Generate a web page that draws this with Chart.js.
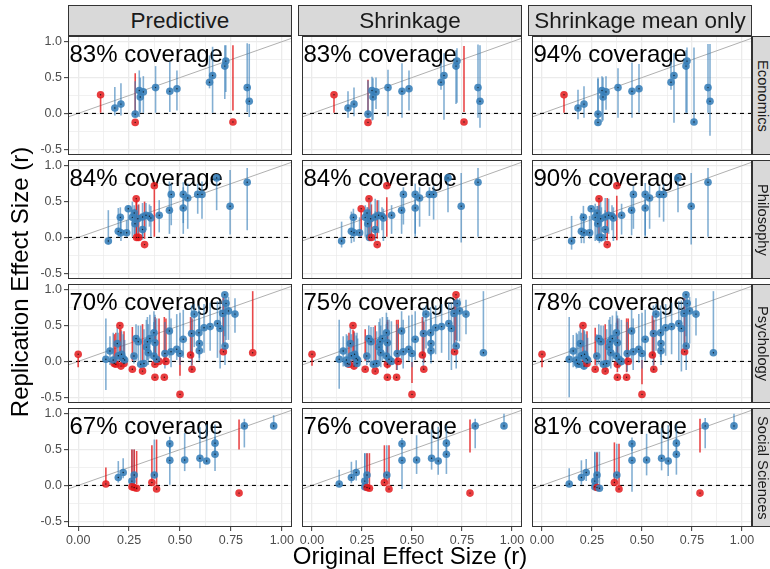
<!DOCTYPE html>
<html>
<head>
<meta charset="utf-8">
<title>Replication vs original effect sizes</title>
<script src="https://cdn.jsdelivr.net/npm/chart.js@4.4.1/dist/chart.umd.min.js"></script>
<style>
  html, body { margin: 0; padding: 0; background: #ffffff; }
  #figure { position: relative; width: 770px; height: 569px; overflow: hidden;
            font-family: "Liberation Sans", Arial, Helvetica, sans-serif; }
  #figure canvas { position: absolute; }
  .strip { position: absolute; box-sizing: border-box; background: #D9D9D9; border: 1px solid #333333;
           color: #1A1A1A; display: flex; align-items: center; justify-content: center; white-space: nowrap; }
  .strip.top { font-size: 22.5px; }
  .strip.side { font-size: 14.7px; writing-mode: vertical-rl; }
  .axis-title { position: absolute; font-size: 24px; color: #000000; white-space: nowrap; text-align: center; }
</style>
</head>
<body>
<div id="figure"></div>
<script>
// ---- facets and axes ----
const methods = ['Predictive', 'Shrinkage', 'Shrinkage mean only'];
const fields = ['Economics', 'Philosophy', 'Psychology', 'Social Sciences'];
const xTickValues = [0, 0.25, 0.5, 0.75, 1];
const xTickLabels = ['0.00', '0.25', '0.50', '0.75', '1.00'];
const xMinorValues = [0.125, 0.375, 0.625, 0.875];
const yTickValues = [-0.5, 0, 0.5, 1];
const yTickLabels = ['-0.5', '0.0', '0.5', '1.0'];
const yMinorValues = [-0.25, 0.25, 0.75];

// ---- Economics ----
const econOriginal    = [0.11, 0.18, 0.21, 0.28, 0.28, 0.30, 0.305, 0.32, 0.38, 0.45, 0.485, 0.645, 0.66, 0.72, 0.725, 0.76, 0.83, 0.84];
const econReplication = [0.26, 0.075, 0.13, -0.125, -0.01, 0.32, 0.23, 0.30, 0.36, 0.31, 0.345, 0.435, 0.53, 0.66, 0.73, -0.12, 0.36, 0.17];
const econPredLo   = [0.01, -0.03, -0.03, -0.02, -0.05, -0.05, 0.0, 0.0, 0.0, 0.02, 0.04, 0.35, 0.0, 0.20, 0.30, 0.04, 0.02, -0.05];
const econPredHi   = [0.23, 0.37, 0.42, 0.56, 0.45, 0.60, 0.50, 0.52, 0.66, 0.72, 0.60, 0.81, 0.93, 0.95, 0.95, 0.95, 0.98, 0.97];
const econShrinkLo = [0.0, -0.06, -0.04, 0.0, -0.06, -0.10, -0.09, 0.06, -0.04, -0.06, 0.04, 0.33, -0.09, 0.13, 0.15, 0.02, -0.06, -0.20];
const econShrinkHi = [0.22, 0.31, 0.36, 0.47, 0.46, 0.51, 0.49, 0.50, 0.61, 0.70, 0.60, 0.70, 0.84, 0.88, 0.91, 0.94, 0.96, 0.95];
const econMeanLo   = [0.0, -0.08, -0.06, -0.17, -0.08, -0.12, -0.10, 0.05, -0.06, -0.06, 0.0, 0.33, -0.13, 0.0, 0.0, -0.15, 0.0, -0.31];
const econMeanHi   = [0.22, 0.33, 0.38, 0.50, 0.48, 0.52, 0.50, 0.52, 0.63, 0.71, 0.69, 0.72, 0.84, 0.88, 0.92, 0.92, 0.97, 0.97];

// ---- Philosophy ----
const philOriginal    = [0.148, 0.197, 0.207, 0.21, 0.238, 0.246, 0.266, 0.275, 0.285, 0.287, 0.297, 0.293, 0.316, 0.326, 0.316, 0.333, 0.35, 0.357, 0.374, 0.398, 0.448, 0.457, 0.516, 0.516, 0.538, 0.587, 0.608, 0.68, 0.746, 0.83, 0.279];
const philReplication = [-0.05, 0.085, 0.28, 0.065, 0.065, 0.40, 0.28, 0.34, 0.54, 0.0, 0.0, 0.26, 0.11, -0.10, 0.285, 0.31, 0.295, 0.27, 0.72, 0.31, 0.38, 0.60, 0.60, 0.41, 0.55, 0.60, 0.60, 0.83, 0.435, 0.77, 0.19];
const philPredLo   = [-0.10, 0.0, 0.0, -0.05, 0.0, 0.05, 0.0, 0.04, -0.02, 0.03, 0.02, 0.05, -0.03, -0.02, 0.0, 0.10, 0.15, 0.0, 0.0, 0.07, 0.05, 0.17, 0.05, 0.20, 0.12, 0.33, 0.26, 0.38, 0.04, 0.10, 0.0];
const philPredHi   = [0.38, 0.41, 0.42, 0.30, 0.24, 0.45, 0.50, 0.45, 0.50, 0.52, 0.46, 0.45, 0.33, 0.50, 0.48, 0.48, 0.46, 0.44, 0.67, 0.52, 0.78, 0.75, 0.77, 0.70, 0.75, 0.75, 0.78, 0.87, 0.94, 0.97, 0.40];
const philShrinkLo = [-0.14, -0.08, 0.02, -0.06, 0.0, 0.0, 0.0, 0.0, 0.0, -0.05, 0.01, -0.02, -0.05, -0.02, 0.02, 0.06, 0.10, -0.05, 0.0, 0.05, 0.05, 0.18, 0.05, 0.0, 0.15, 0.30, 0.25, 0.35, -0.07, 0.0, 0.0];
const philShrinkHi = [0.22, 0.36, 0.40, 0.30, 0.28, 0.38, 0.45, 0.42, 0.49, 0.40, 0.46, 0.50, 0.36, 0.52, 0.54, 0.52, 0.42, 0.40, 0.56, 0.45, 0.55, 0.70, 0.75, 0.60, 0.70, 0.70, 0.72, 0.87, 0.90, 0.97, 0.42];
const philMeanLo   = [-0.17, -0.08, 0.0, -0.08, -0.02, 0.0, -0.05, 0.0, -0.03, -0.08, -0.06, -0.05, -0.06, -0.04, 0.0, 0.05, 0.10, -0.05, -0.04, 0.04, 0.03, 0.12, 0.03, 0.0, 0.12, 0.28, 0.22, 0.35, -0.10, 0.0, -0.02];
const philMeanHi   = [0.30, 0.34, 0.44, 0.32, 0.30, 0.42, 0.47, 0.44, 0.51, 0.45, 0.42, 0.52, 0.38, 0.55, 0.55, 0.54, 0.45, 0.42, 0.58, 0.47, 0.58, 0.72, 0.76, 0.62, 0.72, 0.72, 0.74, 0.88, 0.90, 0.97, 0.44];

// ---- Psychology ----
const psychOriginal = [0.0, 0.205, 0.185, 0.21, 0.225, 0.266, 0.316, 0.377, 0.397, 0.377, 0.423, 0.431, 0.50, 0.552, 0.559, 0.713, 0.857, 0.177,
  0.136, 0.156, 0.172, 0.192, 0.197, 0.213, 0.221, 0.228, 0.274, 0.284, 0.307, 0.295, 0.34, 0.344, 0.352, 0.372, 0.377, 0.372, 0.385, 0.426,
  0.448, 0.456, 0.484, 0.50, 0.516, 0.557, 0.57, 0.595, 0.595, 0.593, 0.618, 0.648, 0.684, 0.697, 0.71, 0.72, 0.738, 0.721, 0.77, 0.726, 0.323, 0.335];
const psychReplication = [0.10, 0.50, -0.04, -0.065, -0.03, -0.11, -0.135, -0.04, 0.0, -0.22, -0.22, 0.0, -0.46, 0.09, -0.11, 0.135, 0.12, -0.03,
  0.03, 0.145, 0.02, 0.25, 0.08, 0.10, 0.04, 0.02, 0.075, 0.32, -0.04, 0.275, 0.275, 0.12, 0.32, 0.40, 0.26, 0.075, 0.03, 0.11,
  0.425, 0.135, 0.17, 0.11, 0.31, 0.39, 0.66, 0.25, 0.15, 0.40, 0.47, 0.486, 0.53, 0.46, 0.67, 0.93, 0.705, 0.215, 0.66, 0.81, -0.03, 0.20];
const psychPredLo = [-0.08, 0.0, 0.0, 0.0, 0.02, 0.0, 0.0, 0.0, 0.02, 0.0, -0.05, 0.04, -0.20, 0.12, -0.05, 0.22, 0.16, 0.0,
  -0.40, -0.05, -0.05, 0.0, -0.02, 0.0, -0.05, -0.04, -0.03, 0.0, -0.08, 0.0, 0.02, -0.05, 0.04, 0.06, 0.0, -0.02, -0.05, -0.10,
  0.05, -0.08, 0.02, -0.05, 0.05, -0.15, 0.20, 0.05, 0.0, 0.10, 0.12, 0.15, 0.05, -0.10, 0.25, 0.35, 0.30, -0.05, 0.40, 0.30, -0.10, 0.0];
const psychPredHi = [0.06, 0.46, 0.40, 0.45, 0.42, 0.48, 0.52, 0.62, 0.60, 0.58, 0.62, 0.60, 0.10, 0.62, 0.60, 0.90, 0.98, 0.38,
  0.60, 0.35, 0.40, 0.48, 0.40, 0.42, 0.38, 0.30, 0.35, 0.52, 0.50, 0.50, 0.62, 0.52, 0.65, 0.70, 0.65, 0.55, 0.60, 0.55,
  0.72, 0.60, 0.66, 0.68, 0.72, 0.78, 0.80, 0.70, 0.60, 0.78, 0.80, 0.82, 0.84, 0.85, 0.88, 0.95, 0.90, 0.80, 0.88, 0.92, 0.45, 0.58];
const psychShrinkLo = [-0.06, 0.0, 0.0, -0.02, -0.05, 0.0, -0.08, 0.0, -0.04, -0.10, -0.12, 0.05, -0.30, 0.10, -0.02, 0.20, 0.10, -0.06,
  -0.38, -0.07, -0.08, -0.02, -0.05, -0.03, -0.08, -0.06, -0.05, -0.02, -0.10, -0.02, 0.0, -0.08, 0.0, 0.04, -0.05, -0.05, -0.08, -0.12,
  0.02, -0.10, 0.0, -0.08, 0.02, -0.12, 0.18, 0.02, -0.03, 0.08, 0.10, 0.12, 0.02, -0.12, 0.22, 0.30, 0.28, -0.10, 0.38, 0.28, -0.12, -0.02];
const psychShrinkHi = [0.05, 0.44, 0.40, 0.42, 0.40, 0.45, 0.50, 0.58, 0.56, 0.55, 0.58, 0.58, 0.0, 0.62, 0.55, 0.85, 0.98, 0.36,
  0.58, 0.35, 0.38, 0.48, 0.38, 0.40, 0.36, 0.32, 0.36, 0.50, 0.48, 0.48, 0.60, 0.50, 0.62, 0.68, 0.62, 0.52, 0.58, 0.52,
  0.70, 0.58, 0.64, 0.65, 0.70, 0.75, 0.78, 0.68, 0.58, 0.76, 0.78, 0.80, 0.82, 0.82, 0.86, 0.90, 0.88, 0.78, 0.86, 0.90, 0.42, 0.55];
const psychMeanLo = [-0.08, -0.02, -0.08, -0.10, 0.0, -0.05, -0.10, 0.0, -0.06, -0.15, -0.15, 0.05, -0.32, 0.10, -0.05, 0.18, 0.10, -0.08,
  -0.50, -0.08, -0.10, -0.04, -0.06, -0.05, -0.09, -0.07, -0.06, -0.04, -0.12, -0.04, -0.02, -0.10, 0.0, 0.02, -0.06, -0.07, -0.10, -0.14,
  0.0, -0.12, -0.02, -0.10, 0.0, -0.15, 0.15, 0.0, -0.05, 0.06, 0.08, 0.10, 0.0, -0.14, 0.20, 0.35, 0.25, -0.12, 0.36, 0.26, -0.14, -0.04];
const psychMeanHi = [0.05, 0.45, 0.42, 0.44, 0.42, 0.47, 0.52, 0.60, 0.58, 0.57, 0.60, 0.60, 0.02, 0.64, 0.58, 0.88, 0.98, 0.38,
  0.62, 0.37, 0.40, 0.50, 0.40, 0.42, 0.38, 0.33, 0.38, 0.52, 0.50, 0.50, 0.62, 0.52, 0.64, 0.70, 0.64, 0.54, 0.60, 0.55,
  0.72, 0.60, 0.66, 0.68, 0.72, 0.78, 0.80, 0.70, 0.60, 0.78, 0.80, 0.82, 0.84, 0.85, 0.88, 0.96, 0.90, 0.80, 0.88, 0.92, 0.45, 0.58];

// ---- Social Sciences ----
const socOriginal    = [0.136, 0.197, 0.221, 0.264, 0.264, 0.275, 0.275, 0.287, 0.362, 0.374, 0.385, 0.45, 0.45, 0.523, 0.598, 0.631, 0.672, 0.672, 0.79, 0.816, 0.96];
const socReplication = [0.02, 0.11, 0.18, 0.06, -0.02, 0.145, -0.03, -0.04, 0.04, 0.145, -0.05, 0.58, 0.35, 0.355, 0.378, 0.34, 0.435, 0.59, -0.107, 0.83, 0.83];
const socPredLo   = [0.04, 0.04, 0.10, 0.0, 0.0, -0.02, 0.0, 0.02, 0.06, 0.10, 0.0, 0.46, 0.0, 0.20, 0.24, 0.30, 0.20, 0.42, 0.50, 0.53, 0.80];
const socPredHi   = [0.25, 0.34, 0.38, 0.50, 0.50, 0.50, 0.50, 0.48, 0.56, 0.64, 0.64, 0.68, 0.58, 0.73, 0.81, 0.85, 0.68, 0.85, 0.92, 0.93, 0.98];
const socShrinkLo = [-0.02, 0.03, 0.07, 0.0, -0.03, -0.02, 0.0, 0.0, 0.05, 0.05, 0.0, 0.50, -0.05, 0.16, 0.22, 0.15, 0.16, 0.40, 0.46, 0.52, 0.79];
const socShrinkHi = [0.22, 0.33, 0.35, 0.45, 0.45, 0.45, 0.45, 0.45, 0.56, 0.56, 0.56, 0.66, 0.60, 0.70, 0.78, 0.82, 0.65, 0.84, 0.92, 0.93, 1.0];
const socMeanLo   = [-0.01, 0.0, 0.06, -0.02, -0.04, -0.02, 0.0, -0.06, 0.05, 0.05, -0.02, 0.48, -0.09, 0.14, 0.21, 0.13, 0.15, 0.38, 0.46, 0.52, 0.78];
const socMeanHi   = [0.24, 0.35, 0.37, 0.47, 0.46, 0.47, 0.46, 0.47, 0.60, 0.58, 0.58, 0.67, 0.62, 0.72, 0.80, 0.84, 0.66, 0.85, 0.93, 0.94, 1.0];

// rows of the grid: one per field, three interval methods per row
const fieldSets = [
  { orig: econOriginal,  repl: econReplication,  lo: [econPredLo, econShrinkLo, econMeanLo],    hi: [econPredHi, econShrinkHi, econMeanHi] },
  { orig: philOriginal,  repl: philReplication,  lo: [philPredLo, philShrinkLo, philMeanLo],    hi: [philPredHi, philShrinkHi, philMeanHi] },
  { orig: psychOriginal, repl: psychReplication, lo: [psychPredLo, psychShrinkLo, psychMeanLo], hi: [psychPredHi, psychShrinkHi, psychMeanHi] },
  { orig: socOriginal,   repl: socReplication,   lo: [socPredLo, socShrinkLo, socMeanLo],       hi: [socPredHi, socShrinkHi, socMeanHi] }
];

// ---- look ----
const FONT = '"Liberation Sans", Arial, Helvetica, sans-serif';
Chart.defaults.font.family = FONT;
Chart.defaults.color = '#4D4D4D';
const POINT_IN = 'rgba(55,126,184,0.88)';
const POINT_OUT = 'rgba(228,26,28,0.85)';
const BAR_IN = 'rgba(55,126,184,0.62)';
const BAR_OUT = 'rgba(228,26,28,0.8)';

const panelLefts = [68, 298, 528];
const panelTops = [36, 160, 284, 408];
const PANEL_W = 224, PANEL_H = 119, Y_AXIS_W = 44, X_AXIS_H = 26, PAD = 6;

const figure = document.getElementById('figure');
const near = (list, v) => list.some(m => Math.abs(m - v) < 1e-9);
const labelFor = (values, labels, v) => {
  const k = values.findIndex(m => Math.abs(m - v) < 1e-9);
  return k < 0 ? '' : labels[k];
};
const xAllTicks = [...xTickValues, ...xMinorValues].sort((a, b) => a - b);
const yAllTicks = [...yTickValues, ...yMinorValues].sort((a, b) => a - b);

// coverage label in the top-left corner of each panel
const coverageText = {
  id: 'coverageText',
  beforeDatasetsDraw(chart, args, opts) {
    const { ctx, chartArea } = chart;
    ctx.save();
    ctx.font = '24px ' + FONT;
    ctx.fillStyle = '#000000';
    ctx.textBaseline = 'alphabetic';
    ctx.textAlign = 'left';
    ctx.fillText(opts.text, chartArea.left + 1.5, chartArea.top + 25.5);
    ctx.restore();
  }
};
// dark frame round each panel
const panelBorder = {
  id: 'panelBorder',
  afterDraw(chart) {
    const { ctx, chartArea } = chart;
    ctx.save();
    ctx.strokeStyle = '#333333';
    ctx.lineWidth = 1;
    ctx.strokeRect(Math.round(chartArea.left) + 0.5, Math.round(chartArea.top) + 0.5,
                   Math.round(chartArea.width) - 1, Math.round(chartArea.height) - 1);
    ctx.restore();
  }
};

function addPanel(r, c) {
  const set = fieldSets[r];
  const lo = set.lo[c], hi = set.hi[c];
  const showY = c === 0, showX = r === fields.length - 1;
  const inside = set.repl.map((y, i) => y >= lo[i] && y <= hi[i]);
  const pct = Math.round(100 * inside.filter(Boolean).length / inside.length);

  const canvas = document.createElement('canvas');
  const w = (showY ? Y_AXIS_W : 0) + PANEL_W + PAD;
  const h = PAD + PANEL_H + (showX ? X_AXIS_H : PAD);
  canvas.width = w; canvas.height = h;
  canvas.style.width = w + 'px'; canvas.style.height = h + 'px';
  canvas.style.left = (panelLefts[c] - (showY ? Y_AXIS_W : 0)) + 'px';
  canvas.style.top = (panelTops[r] - PAD) + 'px';
  figure.appendChild(canvas);

  const points = set.orig.map((x, i) => ({ x, y: set.repl[i] }));
  const gridWidth = (list) => (ctx) => (ctx.tick && near(list, ctx.tick.value)) ? 1.3 : 0.7;
  const tickColor = (list) => (ctx) => (ctx.tick && near(list, ctx.tick.value)) ? '#333333' : 'rgba(0,0,0,0)';

  new Chart(canvas, {
    type: 'scatter',
    data: {
      datasets: [
        { type: 'line', data: [{ x: -0.05, y: -0.05 }, { x: 1.05, y: 1.05 }], borderColor: '#B0B0B0',
          borderWidth: 1, pointRadius: 0, order: 5 },
        { type: 'line', data: [{ x: -0.05, y: 0 }, { x: 1.05, y: 0 }], borderColor: '#000000',
          borderWidth: 1.1, borderDash: [4, 4], pointRadius: 0, order: 4 },
        { type: 'bar', data: set.orig.map((x, i) => ({ x, y: [lo[i], hi[i]] })),
          backgroundColor: inside.map(v => v ? BAR_IN : BAR_OUT), borderWidth: 0,
          barThickness: 1.6, inflateAmount: 0, grouped: false, order: 3 },
        { type: 'scatter', data: points, pointRadius: 3.8, pointBorderWidth: 0,
          pointBackgroundColor: inside.map(v => v ? POINT_IN : POINT_OUT), order: 2 },
        { type: 'scatter', data: points, pointRadius: 0.7, pointBorderWidth: 0,
          pointBackgroundColor: 'rgba(10,10,10,0.8)', order: 1 }
      ]
    },
    options: {
      responsive: false,
      animation: false,
      devicePixelRatio: 1,
      events: [],
      layout: { padding: { top: PAD, right: PAD, bottom: showX ? 0 : PAD, left: 0 } },
      plugins: { legend: { display: false }, tooltip: { enabled: false },
                 coverageText: { text: pct + '% coverage' } },
      scales: {
        x: {
          type: 'linear', min: -0.05, max: 1.05, offset: false,
          afterBuildTicks: (s) => { s.ticks = xAllTicks.map(v => ({ value: v })); },
          afterFit: (s) => { s.height = showX ? X_AXIS_H : 0; s.paddingLeft = 0; s.paddingRight = 0; },
          ticks: { display: showX, autoSkip: false, maxRotation: 0, minRotation: 0, padding: 2,
                   color: '#4D4D4D', font: { size: 12.5 },
                   callback: (v) => labelFor(xTickValues, xTickLabels, v) },
          grid: { offset: false, drawTicks: showX, tickLength: 4, color: '#EBEBEB',
                  lineWidth: gridWidth(xTickValues), tickColor: tickColor(xTickValues), tickWidth: 1 },
          border: { display: false }
        },
        y: {
          type: 'linear', min: -0.58, max: 1.08,
          afterBuildTicks: (s) => { s.ticks = yAllTicks.map(v => ({ value: v })); },
          afterFit: (s) => { s.width = showY ? Y_AXIS_W : 0; s.paddingTop = 0; s.paddingBottom = 0; },
          ticks: { display: showY, autoSkip: false, padding: 2, color: '#4D4D4D', font: { size: 12.5 },
                   callback: (v) => labelFor(yTickValues, yTickLabels, v) },
          grid: { drawTicks: showY, tickLength: 4, color: '#EBEBEB',
                  lineWidth: gridWidth(yTickValues), tickColor: tickColor(yTickValues), tickWidth: 1 },
          border: { display: false }
        }
      }
    },
    plugins: [coverageText, panelBorder]
  });
}

fields.forEach((f, r) => methods.forEach((m, c) => addPanel(r, c)));

// facet strips
methods.forEach((m, c) => {
  const d = document.createElement('div');
  d.className = 'strip top';
  d.textContent = m;
  Object.assign(d.style, { left: panelLefts[c] + 'px', top: '5px', width: PANEL_W + 'px', height: '31px' });
  figure.appendChild(d);
});
fields.forEach((f, r) => {
  const d = document.createElement('div');
  d.className = 'strip side';
  d.textContent = f;
  Object.assign(d.style, { left: (panelLefts[2] + PANEL_W) + 'px', top: panelTops[r] + 'px',
                           width: '21px', height: PANEL_H + 'px' });
  figure.appendChild(d);
});

// axis titles
const xTitle = document.createElement('div');
xTitle.className = 'axis-title';
xTitle.textContent = 'Original Effect Size (r)';
Object.assign(xTitle.style, { left: '210px', width: '400px', top: '542px' });
figure.appendChild(xTitle);

const yTitle = document.createElement('div');
yTitle.className = 'axis-title';
yTitle.textContent = 'Replication Effect Size (r)';
Object.assign(yTitle.style, { left: (20 - 200) + 'px', width: '400px', top: (282 - 14) + 'px',
                              transform: 'rotate(-90deg)', transformOrigin: '50% 50%' });
figure.appendChild(yTitle);
</script>
</body>
</html>
